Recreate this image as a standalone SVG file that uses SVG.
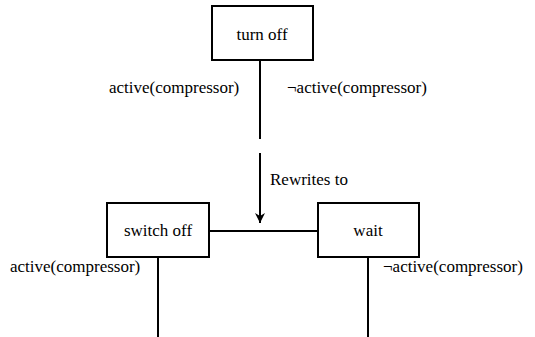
<svg xmlns="http://www.w3.org/2000/svg" width="535" height="337" viewBox="0 0 535 337">
<defs>
<marker id="ah" viewBox="0 0 10 10" refX="10" refY="5" markerWidth="10" markerHeight="10" markerUnits="userSpaceOnUse" orient="auto"><path d="M0,0 L10,5 L0,10 L3,5 Z" fill="#000"/></marker>
</defs>
<style>
.box{fill:#fff;stroke:#000;stroke-width:2}
.t{font-family:'Liberation Serif','Times New Roman',Times,serif;font-size:17px;fill:#000}
.c{text-anchor:middle}
.ln{stroke:#000;stroke-width:2}
</style>
<rect x="0" y="0" width="535" height="337" fill="#fff"/>
<g id="connectors">
<line class="ln" x1="260" y1="60" x2="260" y2="139"/>
<line class="ln" x1="260" y1="153" x2="260" y2="223" marker-end="url(#ah)"/>
<line class="ln" x1="209" y1="231" x2="318" y2="231"/>
<line class="ln" x1="158" y1="257" x2="158" y2="337"/>
<line class="ln" x1="368" y1="257" x2="368" y2="337"/>
</g>
<g id="turn-off"><rect class="box" x="212" y="6" width="101" height="54"/><text class="t c" x="262" y="40" font-family="Liberation Serif, serif">turn off</text></g>
<g id="switch-off"><rect class="box" x="107" y="203" width="102" height="54"/><text class="t c" x="158" y="236" font-family="Liberation Serif, serif">switch off</text></g>
<g id="wait"><rect class="box" x="318" y="203" width="101" height="54"/><text class="t c" x="368" y="236" font-family="Liberation Serif, serif">wait</text></g>
<g id="labels">
<text class="t" x="109" y="93" font-family="Liberation Serif, serif">active(compressor)</text>
<text class="t" x="287" y="93" font-family="Liberation Serif, serif">¬active(compressor)</text>
<text class="t" x="270" y="185" font-family="Liberation Serif, serif">Rewrites to</text>
<text class="t" x="10" y="272" font-family="Liberation Serif, serif">active(compressor)</text>
<text class="t" x="383" y="272" font-family="Liberation Serif, serif">¬active(compressor)</text>
</g>
</svg>
